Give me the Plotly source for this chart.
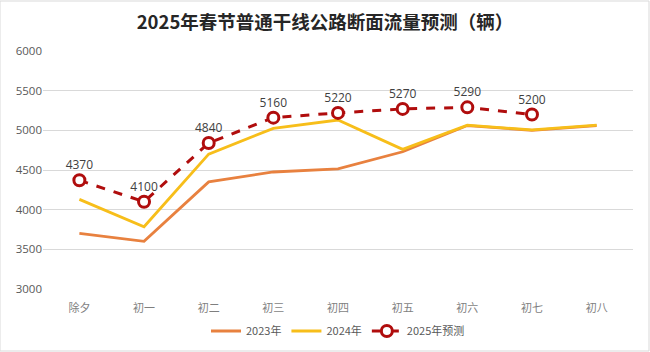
import plotly.graph_objects as go

categories = ["除夕", "初一", "初二", "初三", "初四", "初五", "初六", "初七", "初八"]
y2023 = [3700, 3600, 4350, 4475, 4515, 4730, 5060, 5000, 5060]
y2024 = [4130, 3785, 4700, 5025, 5130, 4760, 5065, 5005, 5065]
y2025 = [4370, 4100, 4840, 5160, 5220, 5270, 5290, 5200, None]
y2025_labels = [str(v) if v is not None else "" for v in y2025]

font_cjk = "Noto Sans CJK SC, Noto Sans, sans-serif"

fig = go.Figure()
fig.add_trace(go.Scatter(x=categories, y=y2023, name="2023年", mode="lines",
                         line=dict(color="#E8813F", width=2.8)))
fig.add_trace(go.Scatter(x=categories, y=y2024, name="2024年", mode="lines",
                         line=dict(color="#F7BE1A", width=2.8)))
fig.add_trace(go.Scatter(x=categories, y=y2025, name="2025年预测", mode="lines+markers+text",
                         line=dict(color="#B00D0D", width=3, dash="dash"),
                         marker=dict(symbol="circle", size=11, color="white",
                                     line=dict(color="#B00D0D", width=3)),
                         text=y2025_labels, textposition="top center",
                         textfont=dict(size=12, color="#404040", family="Open Sans, sans-serif")))

fig.update_layout(
    width=650, height=352,
    margin=dict(l=43, r=17, t=51, b=63, autoexpand=False),
    paper_bgcolor="white", plot_bgcolor="white",
    title=dict(text="2025年春节普通干线公路断面流量预测（辆）", x=0.5, xanchor="center",
               y=0.937, yanchor="middle",
               font=dict(family=font_cjk, size=18.5, color="#262626", weight=600)),
    showlegend=True,
    legend=dict(orientation="h", x=0.5, xanchor="center", y=-42/238, yanchor="middle",
                font=dict(family=font_cjk, size=11, color="#595959"),
                itemwidth=30, tracegroupgap=0),
    xaxis=dict(showgrid=False, showline=False, ticks="", ticklabelstandoff=11, automargin=False,
               tickfont=dict(family=font_cjk, size=11, color="#7f7f7f")),
    yaxis=dict(range=[3000, 6000], dtick=500, showgrid=True, gridcolor="#D9D9D9", gridwidth=1,
               zeroline=False, showline=False, ticks="", automargin=False,
               tickfont=dict(family="Open Sans, sans-serif", size=11.5, color="#595959")),
    shapes=[dict(type="rect", xref="paper", yref="paper", x0=-43/590, x1=1+16/590,
                 y0=-62/238, y1=1+50/238, line=dict(color="#D9D9D9", width=1))],
)

fig.write_html("out.html")
